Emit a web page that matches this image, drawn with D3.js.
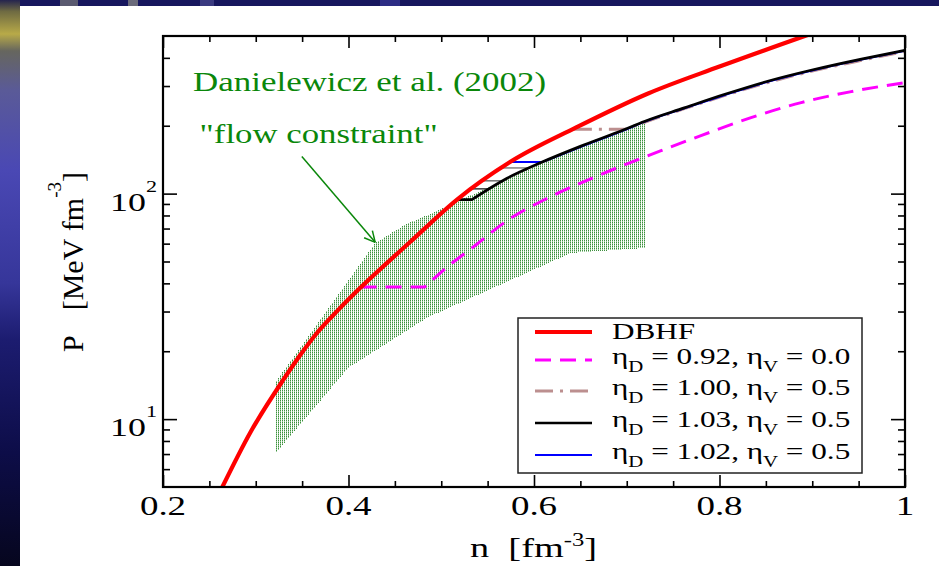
<!DOCTYPE html>
<html>
<head>
<meta charset="utf-8">
<script src="https://cdn.jsdelivr.net/npm/d3@7"></script>
<style>
  html, body { margin: 0; padding: 0; background: #fff; }
  svg { display: block; }
  text { font-family: "Liberation Serif", "Times New Roman", serif; }
</style>
</head>
<body>
<svg id="chart" width="939" height="566"></svg>
<script>
// ---------------- data ----------------
// axis ticks
const xMajorTicks = [0.2, 0.4, 0.6, 0.8, 1.0];
const xTickLabels = ["0.2", "0.4", "0.6", "0.8", "1"];
const xMinorTicks = [0.25, 0.3, 0.35, 0.45, 0.5, 0.55, 0.65, 0.7, 0.75, 0.85, 0.9, 0.95];
const yMajorTicks = [10, 100];
const yTickExponents = ["1", "2"];
const yMinorTicks = [6, 7, 8, 9, 20, 30, 40, 50, 60, 70, 80, 90, 200, 300, 400];

// DBHF equation of state: density n [fm^-3], pressure P [MeV fm^-3]
const dbhfN = [0.264, 0.294, 0.330, 0.348, 0.366, 0.389, 0.413, 0.467, 0.517, 0.575, 0.645, 0.723, 0.800, 0.896];
const dbhfP = [5.0, 8.7, 15.0, 19.25, 24.1, 30.5, 38.3, 61.3, 94.1, 138.7, 196, 278, 366, 507];

// eta_D = 0.92, eta_V = 0.0 (mixed-phase plateau first, then quark branch)
const eta092N = [0.413, 0.482, 0.507, 0.535, 0.571, 0.618, 0.664, 0.701, 0.737, 0.780, 0.834, 0.888, 0.942, 1.0];
const eta092P = [38.5, 38.5, 47.5, 58.2, 75.9, 97.0, 117.8, 135.9, 155.1, 180.8, 217.3, 253.3, 283.4, 310.5];

// eta_D = 1.00, eta_V = 0.5
const eta100N = [0.643, 0.699, 0.719, 0.762, 0.805, 0.852, 0.902, 0.953, 1.0];
const eta100P = [193, 193, 207, 238, 272, 311, 351, 390, 427];

// eta_D = 1.03, eta_V = 0.5
const eta103N = [0.518, 0.533, 0.571, 0.607, 0.650, 0.697, 0.719, 0.762, 0.805, 0.852, 0.902, 0.953, 1.0];
const eta103P = [94, 94, 117, 137, 162, 192, 209, 240, 275, 315, 355, 395, 432];

// eta_D = 1.02, eta_V = 0.5
const eta102N = [0.575, 0.609, 0.650, 0.697, 0.719, 0.762, 0.805, 0.852, 0.902, 0.953, 1.0];
const eta102P = [138, 138, 161, 191, 208, 239, 273, 313, 353, 393, 430];

// intermediate phase-transition plateaus (start density, end density, pressure)
const plateauStartN = [0.534, 0.546, 0.565];
const plateauEndN = [0.552, 0.567, 0.595];
const plateauP = [105, 114, 130];

// flow constraint band (Danielewicz et al. 2002): upper edge then lower edge
const bandUpperN = [0.322, 0.429, 0.463, 0.495, 0.519, 0.571, 0.607, 0.650, 0.697, 0.720];
const bandUpperP = [14.7, 60.5, 73.5, 83.5, 93, 116, 135, 160, 190, 205];
const bandLowerN = [0.720, 0.640, 0.485, 0.400, 0.322];
const bandLowerP = [57.4, 54.6, 28.2, 16.9, 7.1];

// legend
const legendEtaD = ["0.92", "1.00", "1.03", "1.02"];
const legendEtaV = ["0.0", "0.5", "0.5", "0.5"];

// ---------------- layout ----------------
const W = 939, H = 566;
const plot = { left: 163, right: 905, top: 36, bottom: 487 };
const x = d3.scaleLinear().domain([0.2, 1.0]).range([plot.left, plot.right]);
const y = d3.scaleLog().domain([5, 500]).range([plot.bottom, plot.top]);

const svg = d3.select("#chart");
const defs = svg.append("defs");

// ---------------- backdrop ----------------
const grad = defs.append("linearGradient").attr("id", "edgeGlow")
  .attr("x1", 0).attr("y1", 0).attr("x2", 0).attr("y2", 1);
[[0, "#24244e"], [0.02, "#6e6a42"], [0.06, "#b8aa48"], [0.09, "#66665e"],
 [0.16, "#5a5a98"], [0.3, "#4a48b4"], [0.5, "#36369a"], [0.6, "#1c1c70"],
 [0.8, "#0d0d48"], [1, "#06061e"]].forEach(([o, c]) =>
  grad.append("stop").attr("offset", o).attr("stop-color", c));
svg.append("rect").attr("width", W).attr("height", H).attr("fill", "url(#edgeGlow)");
svg.append("rect").attr("x", 20).attr("y", 0).attr("width", W - 20).attr("height", 7).attr("fill", "#17175e");
[[60, 18, "#5a5a70"], [128, 10, "#6a6a7a"], [200, 14, "#3a3a80"], [380, 20, "#2c2c84"]].forEach(([bx, bw, c]) =>
  svg.append("rect").attr("x", bx).attr("y", 0).attr("width", bw).attr("height", 6).attr("fill", c));
svg.append("rect").attr("x", 20).attr("y", 6).attr("width", W - 20).attr("height", H - 6).attr("fill", "#fff");

// ---------------- helpers ----------------
function stretchedText(parent, px, py, sx, anchor) {
  const g = parent.append("g").attr("transform", `translate(${px},${py}) scale(${sx},1)`);
  return g.append("text").attr("x", 0).attr("y", 0).attr("text-anchor", anchor);
}
const zip = (ns, ps) => ns.map((n, i) => [n, ps[i]]);
const NBSP = "\u00a0";

// ---------------- plot contents ----------------
defs.append("clipPath").attr("id", "plotClip").append("rect")
  .attr("x", plot.left).attr("y", plot.top)
  .attr("width", plot.right - plot.left).attr("height", plot.bottom - plot.top);

const hatch = defs.append("pattern").attr("id", "flowHatch")
  .attr("patternUnits", "userSpaceOnUse").attr("width", 2).attr("height", 2);
hatch.append("rect").attr("x", 0).attr("y", 0).attr("width", 1).attr("height", 1).attr("fill", "#3d8f3d");
hatch.append("rect").attr("x", 0).attr("y", 1).attr("width", 1).attr("height", 1).attr("fill", "#9ccc9c");

const body = svg.append("g").attr("clip-path", "url(#plotClip)");

const bandPts = zip(bandUpperN, bandUpperP).concat(zip(bandLowerN, bandLowerP));
body.append("path")
  .attr("d", d3.line().x(d => x(d[0])).y(d => y(d[1]))(bandPts) + "Z")
  .attr("fill", "url(#flowHatch)").attr("shape-rendering", "crispEdges");

const smooth = d3.line().x(d => x(d[0])).y(d => y(d[1])).curve(d3.curveMonotoneX);
// a straight plateau (first two points) followed by a smooth branch
function plateauThenSmooth(pts) {
  const branch = smooth(pts.slice(1));
  return `M${x(pts[0][0])},${y(pts[0][1])}L` + branch.slice(1);
}

// plateau construction lines
const plateauColors = ["#444", "#777", "#888"];
plateauP.forEach((p, i) => {
  body.append("line")
    .attr("x1", x(plateauStartN[i])).attr("x2", x(plateauEndN[i]))
    .attr("y1", y(p)).attr("y2", y(p))
    .attr("stroke", plateauColors[i]).attr("stroke-width", 1.6);
});

body.append("path").attr("d", plateauThenSmooth(zip(eta092N, eta092P)))
  .attr("fill", "none").attr("stroke", "#ff00ff").attr("stroke-width", 3)
  .attr("stroke-dasharray", "16,9");
body.append("path").attr("d", plateauThenSmooth(zip(eta100N, eta100P)))
  .attr("fill", "none").attr("stroke", "#bc8f8f").attr("stroke-width", 3)
  .attr("stroke-dasharray", "18,7,3,7");
body.append("path").attr("d", plateauThenSmooth(zip(eta102N, eta102P)))
  .attr("fill", "none").attr("stroke", "#0000ff").attr("stroke-width", 2);
body.append("path").attr("d", plateauThenSmooth(zip(eta103N, eta103P)))
  .attr("fill", "none").attr("stroke", "#000").attr("stroke-width", 2.7)
  .attr("stroke-linejoin", "miter");
body.append("path").attr("d", smooth(zip(dbhfN, dbhfP)))
  .attr("fill", "none").attr("stroke", "#ff0000").attr("stroke-width", 4.2);

// ---------------- annotation ----------------
const green = "#0a870a";
const arrowFrom = [0.3497, 146], arrowTo = [0.4288, 60.8];
const ax0 = x(arrowFrom[0]), ay0 = y(arrowFrom[1]), ax1 = x(arrowTo[0]), ay1 = y(arrowTo[1]);
svg.append("line").attr("x1", ax0).attr("y1", ay0).attr("x2", ax1).attr("y2", ay1)
  .attr("stroke", green).attr("stroke-width", 1.5);
const ang = Math.atan2(ay0 - ay1, ax0 - ax1);
[-0.47, 0.47].forEach(da => {
  svg.append("line").attr("x1", ax1).attr("y1", ay1)
    .attr("x2", ax1 + 12 * Math.cos(ang + da)).attr("y2", ay1 + 12 * Math.sin(ang + da))
    .attr("stroke", green).attr("stroke-width", 1.5);
});
svg.append("text").attr("x", x(0.2324)).attr("y", y(286))
  .attr("font-size", 28).attr("fill", green)
  .attr("textLength", 353).attr("lengthAdjust", "spacingAndGlyphs")
  .text("Danielewicz et al. (2002)");
svg.append("text").attr("x", x(0.2395)).attr("y", y(168))
  .attr("font-size", 28).attr("fill", green)
  .attr("textLength", 238).attr("lengthAdjust", "spacingAndGlyphs")
  .text("\"flow constraint\"");

// ---------------- axes ----------------
const axes = svg.append("g");
function tickAxis(gen, transform, values, size) {
  const g = axes.append("g").attr("transform", transform)
    .call(gen.tickValues(values).tickSize(size).tickFormat(""));
  g.select(".domain").remove();
  g.selectAll(".tick line").attr("stroke", "#000").attr("stroke-width", 1.6);
}
tickAxis(d3.axisBottom(x), `translate(0,${plot.bottom})`, xMajorTicks, -12);
tickAxis(d3.axisBottom(x), `translate(0,${plot.bottom})`, xMinorTicks, -6);
tickAxis(d3.axisTop(x), `translate(0,${plot.top})`, xMajorTicks, -12);
tickAxis(d3.axisTop(x), `translate(0,${plot.top})`, xMinorTicks, -6);
tickAxis(d3.axisLeft(y), `translate(${plot.left},0)`, yMajorTicks, -14);
tickAxis(d3.axisLeft(y), `translate(${plot.left},0)`, yMinorTicks, -7);
tickAxis(d3.axisRight(y), `translate(${plot.right},0)`, yMajorTicks, -14);
tickAxis(d3.axisRight(y), `translate(${plot.right},0)`, yMinorTicks, -7);

axes.append("rect").attr("x", plot.left).attr("y", plot.top)
  .attr("width", plot.right - plot.left).attr("height", plot.bottom - plot.top)
  .attr("fill", "none").attr("stroke", "#000").attr("stroke-width", 2.2);

// tick labels
xMajorTicks.forEach((v, i) => {
  stretchedText(axes, x(v), plot.bottom + 28, 1.37, "middle")
    .attr("font-size", 27).text(xTickLabels[i]);
});
yMajorTicks.forEach((v, i) => {
  const t = stretchedText(axes, plot.left - 6, y(v) + 17, 1.38, "end").attr("font-size", 26);
  t.append("tspan").text("10");
  t.append("tspan").attr("font-size", 16).attr("dy", -19).text(yTickExponents[i]);
});

// axis titles
const xt = stretchedText(axes, 470, 557, 1.37, "start").attr("font-size", 28);
xt.append("tspan").text(`n${NBSP}${NBSP}[fm`);
xt.append("tspan").attr("font-size", 18).attr("dy", -11).text("-3");
xt.append("tspan").attr("dy", 11).text("]");

const ytG = axes.append("g").attr("transform", "translate(83,262) rotate(-90)");
const yt = ytG.append("text").attr("text-anchor", "middle").attr("font-size", 30);
yt.append("tspan").text("P");
yt.append("tspan").attr("dx", 25).text(`[MeV${NBSP}fm`);
yt.append("tspan").attr("font-size", 19).attr("dy", -22).text("-3");
yt.append("tspan").attr("dy", 22).text("]");

// ---------------- legend ----------------
const lg = svg.append("g");
lg.append("rect").attr("x", 518).attr("y", 318).attr("width", 344).attr("height", 155)
  .attr("fill", "#fff").attr("stroke", "#222").attr("stroke-width", 1.5);
const legendStyles = [
  { color: "#ff0000", width: 4.2, dash: null },
  { color: "#ff00ff", width: 3, dash: "16,9" },
  { color: "#bc8f8f", width: 3, dash: "18,7,3,7" },
  { color: "#000", width: 2.7, dash: null },
  { color: "#0000ff", width: 2, dash: null }
];
const legendLineY = [332, 360, 391, 423, 455];
const legendTextY = [339, 364, 395, 427, 459];
legendStyles.forEach((s, i) => {
  lg.append("line").attr("x1", 535).attr("x2", 592)
    .attr("y1", legendLineY[i]).attr("y2", legendLineY[i])
    .attr("stroke", s.color).attr("stroke-width", s.width)
    .attr("stroke-dasharray", s.dash);
  const t = stretchedText(lg, 612, legendTextY[i], 1.3, "start").attr("font-size", 24);
  if (i === 0) {
    t.text("DBHF");
  } else {
    t.append("tspan").text("η");
    t.append("tspan").attr("font-size", 16).attr("dy", 8).text("D");
    t.append("tspan").attr("dy", -8).text(` = ${legendEtaD[i - 1]}, η`);
    t.append("tspan").attr("font-size", 16).attr("dy", 8).text("V");
    t.append("tspan").attr("dy", -8).text(` = ${legendEtaV[i - 1]}`);
  }
});
</script>
</body>
</html>
